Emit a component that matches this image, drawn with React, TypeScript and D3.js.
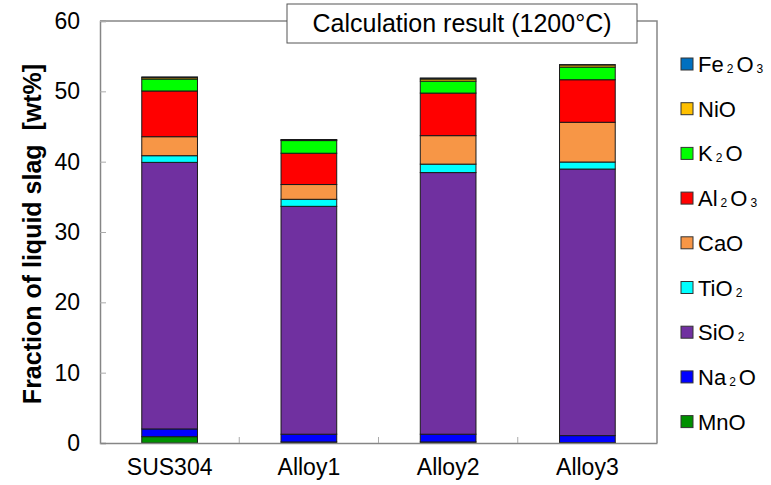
import React, { useEffect, useRef } from 'react';
import * as d3 from 'd3';

// samples on the x axis
const categories = ['SUS304', 'Alloy1', 'Alloy2', 'Alloy3'];

// oxide components, stacked bottom -> top
const components = ['MnO', 'Na2O', 'SiO2', 'TiO2', 'CaO', 'Al2O3', 'K2O', 'NiO', 'Fe2O3'];
const colors = ['#009000', '#0000ff', '#7030a0', '#00ffff', '#f79646', '#ff0000', '#00ff00', '#ffc000', '#0070c0'];

// wt% of each oxide per sample (same order as categories)
const MnO = [0.9, 0.15, 0.15, 0.05];
const Na2O = [1.1, 1.1, 1.1, 1.0];
const SiO2 = [37.9, 32.4, 37.2, 37.9];
const TiO2 = [0.95, 1.0, 1.2, 1.0];
const CaO = [2.7, 2.1, 4.05, 5.65];
const Al2O3 = [6.5, 4.45, 6.05, 6.05];
const K2O = [1.7, 1.8, 1.7, 1.8];
const NiO = [0.2, 0.1, 0.3, 0.3];
const Fe2O3 = [0.1, 0.05, 0.15, 0.05];

const yTicks = [0, 10, 20, 30, 40, 50, 60];
const title = 'Calculation result (1200°C)';
const yLabel = 'Fraction of liquid slag  [wt%]';

const series = [MnO, Na2O, SiO2, TiO2, CaO, Al2O3, K2O, NiO, Fe2O3];

// split "Fe2O3" into normal text and subscript digits
const addFormula = (sel: any, name: string, size: number, subSize: number) => {
  const parts = name.match(/[A-Za-z]+|\d+/g) || [];
  let afterSub = false;
  parts.forEach(p => {
    if (/\d/.test(p)) {
      sel.append('tspan').attr('font-size', subSize).attr('dx', 3).attr('dy', 1).text(p);
      afterSub = true;
    } else {
      const t = sel.append('tspan').attr('font-size', size).text(p);
      if (afterSub) t.attr('dx', 3).attr('dy', -1);
      afterSub = false;
    }
  });
};

export default function App() {
  const ref = useRef<SVGSVGElement>(null);

  useEffect(() => {
    const width = 771;
    const height = 485;
    const margin = { top: 21, right: 114, bottom: 42, left: 100 };
    const svg = d3.select(ref.current);
    svg.selectAll('*').remove();

    const font = "'Liberation Sans', Arial, sans-serif";
    const axisColor = '#868686';

    const x = d3.scaleBand()
      .domain(categories)
      .range([margin.left, width - margin.right])
      .paddingInner(0.6)
      .paddingOuter(0.3);

    const y = d3.scaleLinear()
      .domain([0, 60])
      .range([height - margin.bottom, margin.top]);

    const rows = categories.map((c, i) => {
      const r: any = { cat: c };
      components.forEach((k, j) => { r[k] = series[j][i]; });
      return r;
    });
    const stacked = d3.stack().keys(components)(rows);

    // frame
    const x0 = margin.left, x1 = width - margin.right;
    const y0 = height - margin.bottom, y1 = margin.top;
    svg.append('path')
      .attr('d', `M${x0},${y1}L${x1},${y1}L${x1},${y0}`)
      .attr('fill', 'none').attr('stroke', axisColor).attr('stroke-width', 1.5);

    // bars
    svg.append('g')
      .selectAll('g')
      .data(stacked)
      .join('g')
      .attr('fill', (d, i) => colors[i])
      .selectAll('rect')
      .data(d => d)
      .join('rect')
      .attr('x', (d: any) => x(d.data.cat) as number)
      .attr('y', d => y(d[1]))
      .attr('height', d => y(d[0]) - y(d[1]))
      .attr('width', x.bandwidth())
      .attr('stroke', '#1a1a1a')
      .attr('stroke-width', 1);

    // y axis
    const yAxis = svg.append('g')
      .attr('transform', `translate(${x0},0)`)
      .call(d3.axisLeft(y).tickValues(yTicks).tickSize(-6).tickPadding(20));
    yAxis.select('.domain').attr('stroke', axisColor).attr('stroke-width', 1.5);
    yAxis.selectAll('line').attr('stroke', '#aaa');
    yAxis.selectAll('text')
      .attr('font-family', font).attr('font-size', 23).attr('fill', '#000');

    // x axis with ticks on category boundaries
    const xAxis = svg.append('g')
      .attr('transform', `translate(0,${y0})`)
      .call(d3.axisBottom(x).tickSize(0).tickPadding(16));
    xAxis.select('.domain').attr('stroke', axisColor).attr('stroke-width', 1.5);
    xAxis.selectAll('text')
      .attr('font-family', font).attr('font-size', 23).attr('fill', '#000');
    xAxis.selectAll('line.sep')
      .data(categories.slice(1))
      .join('line')
      .attr('class', 'sep')
      .attr('x1', d => (x(d) as number) - x.step() * x.paddingInner() / 2)
      .attr('x2', d => (x(d) as number) - x.step() * x.paddingInner() / 2)
      .attr('y1', 0).attr('y2', -6)
      .attr('stroke', '#aaa');

    // y label
    svg.append('text')
      .attr('transform', `translate(41,${(y0 + y1) / 2 + 2}) rotate(-90)`)
      .attr('text-anchor', 'middle')
      .attr('font-family', font).attr('font-size', 25).attr('font-weight', 'bold')
      .style('white-space', 'pre')
      .text(yLabel);

    // title box
    const tb = { x: 287, y: 4, w: 350, h: 39 };
    svg.append('rect')
      .attr('x', tb.x).attr('y', tb.y).attr('width', tb.w).attr('height', tb.h)
      .attr('fill', '#fff').attr('stroke', '#555').attr('stroke-width', 1);
    svg.append('text')
      .attr('x', tb.x + tb.w / 2).attr('y', tb.y + 28)
      .attr('text-anchor', 'middle')
      .attr('font-family', font).attr('font-size', 25)
      .text(title);

    // legend, top = last component
    const legend = svg.append('g').attr('font-family', font);
    const order = components.map((c, i) => i).reverse();
    order.forEach((ci, k) => {
      const ly = 64 + k * 44.7;
      legend.append('rect')
        .attr('x', 681).attr('y', ly - 6).attr('width', 12).attr('height', 12)
        .attr('fill', colors[ci]).attr('stroke', '#333').attr('stroke-width', 1);
      const t = legend.append('text')
        .attr('x', 698).attr('y', ly + 8)
        .attr('font-size', 22);
      addFormula(t, components[ci], 22, 12);
    });
  }, []);

  return (
    <svg ref={ref} width={771} height={485}
      style={{ position: 'absolute', left: 0, top: 0, background: '#fff' }} />
  );
}
